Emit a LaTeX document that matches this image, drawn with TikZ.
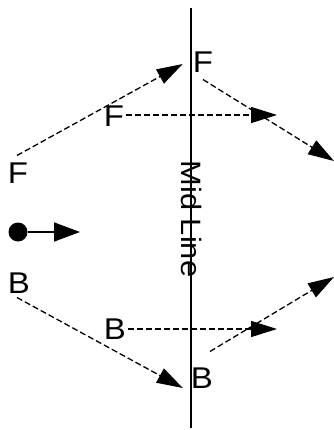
\documentclass[tikz,border=0pt]{standalone}
\usepackage{fontspec}
\setmainfont{Liberation Sans}
\usetikzlibrary{arrows.meta,calc}
\begin{document}
\begin{tikzpicture}[x=1pt,y=-1pt,
  lbl/.style={inner sep=0pt,font=\fontsize{30}{36}\selectfont},
  dasharrow/.style={line width=1.3pt,dash pattern=on 6pt off 3pt,-{Triangle[length=26pt,width=16pt]}},
  solidarrow/.style={line width=1.5pt,-{Triangle[length=26pt,width=19pt]}}]
\useasboundingbox (0,0) rectangle (333,430);
% mid line
\draw[line width=1.8pt] (191,8) coordinate (top) -- (191,428) coordinate (bot);
\node[inner sep=0pt,rotate=-90,font=\fontsize{28}{34}\selectfont] (mid) at (192,219) {\scalebox{1.1}[1]{Mid Line}};
% labels
\node[lbl] (F1) at (18,173) {\scalebox{1.1}[1]{F}};
\node[lbl] (F3) at (114,116) {\scalebox{1.1}[1]{F}};
\node[lbl] (F2) at (203,62) {\scalebox{1.1}[1]{F}};
\node[lbl] (B1) at (19,283) {\scalebox{1.1}[1]{B}};
\node[lbl] (B2) at (115,329) {\scalebox{1.1}[1]{B}};
\node[lbl] (B3) at (202,378) {\scalebox{1.1}[1]{B}};
% free ends
\coordinate (fR) at (277,115);
\coordinate (fD) at (334,161);
\coordinate (bR) at (277,329);
\coordinate (bU) at (334,277);
% dashed arrows
\draw[dasharrow] ([shift={(-1,-7)}]F1.north) -- ([shift={(-10,2)}]F2.west);
\draw[dasharrow] ([shift={(2,-1)}]F3.east) -- (fR);
\draw[dasharrow] ([shift={(0,7)}]F2.south) -- (fD);
\draw[dasharrow] ([shift={(-2,4)}]B1.south) -- ([shift={(-8,10)}]B3.west);
\draw[dasharrow] ([shift={(2,0)}]B2.east) -- (bR);
\draw[dasharrow] ([shift={(8,-16)}]B3.north) -- (bU);
% dot with arrow
\node[circle,fill=black,inner sep=0pt,minimum size=19pt] (dot) at (18,232) {};
\coordinate (dotR) at (80,232);
\draw[solidarrow] (dot.east) -- (dotR);
\end{tikzpicture}
\end{document}
